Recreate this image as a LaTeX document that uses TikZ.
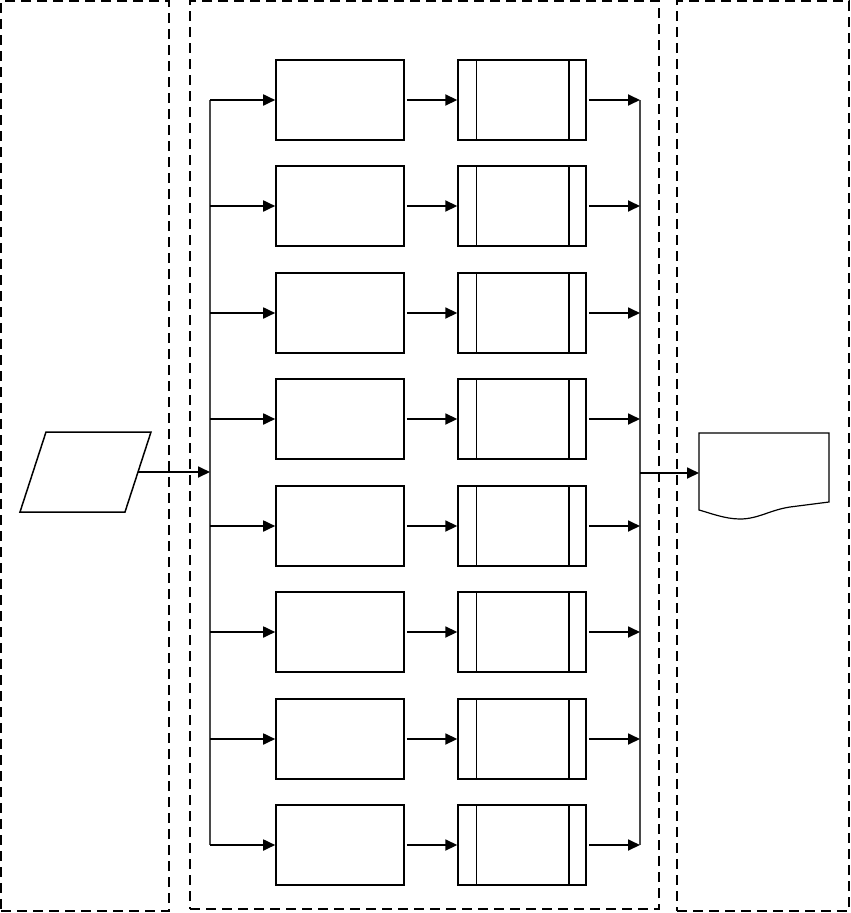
\documentclass[tikz,border=0pt]{standalone}
\usepackage{tikz}
\usetikzlibrary{arrows.meta,positioning,shapes.geometric}
\definecolor{ink}{HTML}{000000}
\definecolor{busGray}{HTML}{4A4A4A}

\begin{document}
\begin{tikzpicture}[x=1pt,y=-1pt,>={Triangle[length=12pt,width=11pt]},
  lane/.style={draw=ink,dash pattern=on 10pt off 6pt,line width=1.5pt,inner sep=0pt},
  procbox/.style={draw=ink,line width=1.6pt,minimum width=128pt,minimum height=80pt,inner sep=0pt},
  subbox/.style={procbox},
  flow/.style={->,ink,line width=1.8pt},
  bus/.style={busGray,line width=1.3pt}]
\useasboundingbox (0,0) rectangle (851,913);
% lanes
\node[lane,minimum width=168pt,minimum height=910pt] (inlane) at (85,456) {};
\node[lane,minimum width=469pt,minimum height=908pt] (worklane) at (424.5,455) {};
\node[lane,minimum width=172pt,minimum height=910pt] (outlane) at (763,456) {};
% input and output
\draw[ink,line width=1.5pt] (46,432) -- (151,432) -- (125,512) -- (20,512) -- cycle;
\coordinate (input) at (138,472);
\node[minimum width=130pt,minimum height=80pt,inner sep=0pt,outer sep=0pt] (doc) at (764,473) {};
\draw[ink,line width=1.2pt] (699,433) -- (829,433) -- (829,502) -- (790,507)
  .. controls (770,510) and (758,519) .. (740,519)
  .. controls (725,519) and (710,513) .. (699,510) -- cycle;
% buses
\coordinate (inbus top) at (210,100);
\coordinate (inbus bot) at (210,845);
\coordinate (outbus top) at (640,100);
\coordinate (outbus bot) at (640,845);
\draw[bus] (inbus top) -- (inbus bot);
\draw[bus] (outbus top) -- (outbus bot);
\draw[flow] (input) -- (input -| inbus top);
\draw[flow] (outbus top |- doc.west) -- (doc.west);
% rows
\foreach \i in {1,...,8} {
  \pgfmathsetmacro\rowy{100+round((\i-1)*106.43)}
  \node[procbox] (p\i) at (340,\rowy) {};
  \node[subbox,right=52.5pt of p\i] (s\i) {};
  \draw[ink,line width=0.8pt] ([xshift=19pt]s\i.north west) -- ([xshift=19pt]s\i.south west);
  \draw[ink,line width=1.4pt] ([xshift=-18pt]s\i.north east) -- ([xshift=-18pt]s\i.south east);
  \draw[flow] (p\i.west -| inbus top) -- (p\i.west);
  \draw[flow,shorten <=2pt] (p\i) -- (s\i);
  \draw[flow,shorten <=2pt] (s\i.east) -- (s\i.east -| outbus top);
}
\end{tikzpicture}
\end{document}
